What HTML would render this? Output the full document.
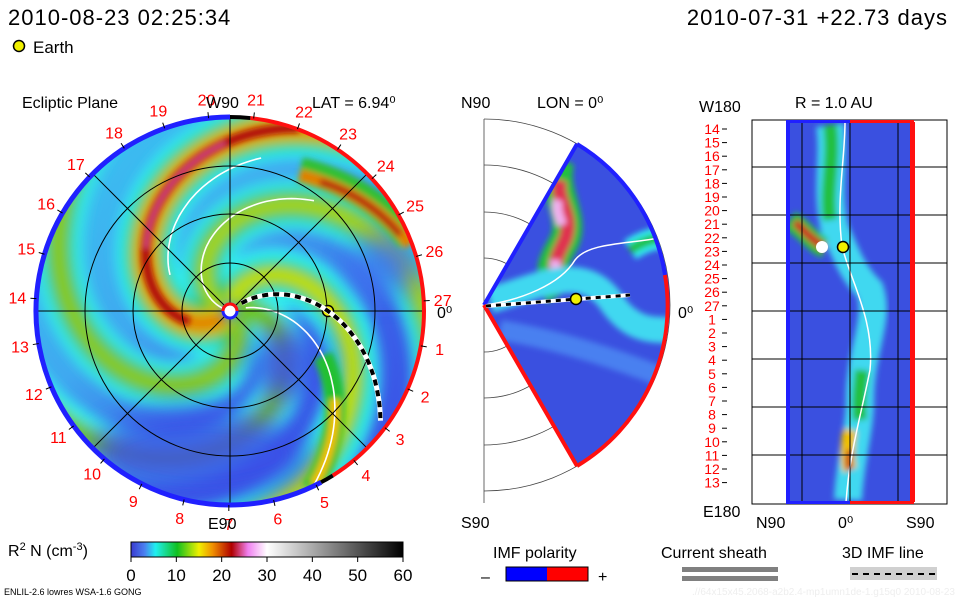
<!DOCTYPE html>
<html><head><meta charset="utf-8"><style>
body{margin:0;background:#fff;width:960px;height:600px;overflow:hidden}
svg{display:block}
text{font-family:"Liberation Sans",sans-serif}
</style></head><body>
<svg id="s" width="960" height="600" viewBox="0 0 960 600">
<defs>
<filter id="bl" x="-20%" y="-20%" width="140%" height="140%"><feGaussianBlur stdDeviation="6"/></filter>
<filter id="bl2" x="-20%" y="-20%" width="140%" height="140%"><feGaussianBlur stdDeviation="3"/></filter>
<filter id="bl3" x="-50%" y="-50%" width="200%" height="200%"><feGaussianBlur stdDeviation="14"/></filter>
<clipPath id="cc"><circle cx="230" cy="311" r="194"/></clipPath>
<clipPath id="wc"><path d="M484,305 L577,144 A186,186 0 0 1 577,466 Z"/></clipPath>
<clipPath id="rc"><rect x="786" y="122" width="128" height="380"/></clipPath>
<linearGradient id="bgg" x1="0" y1="0" x2="0.8" y2="1">
<stop offset="0" stop-color="#38c8f0"/><stop offset="0.45" stop-color="#40a8f0"/><stop offset="0.75" stop-color="#3a60e8"/><stop offset="1" stop-color="#3a50e6"/></linearGradient>
<linearGradient id="cb" x1="0" x2="1" y1="0" y2="0">
<stop offset="0" stop-color="#3a3ad0"/><stop offset="0.05" stop-color="#4a80f0"/><stop offset="0.09" stop-color="#20f0f0"/>
<stop offset="0.17" stop-color="#10c020"/><stop offset="0.25" stop-color="#f0f000"/><stop offset="0.3" stop-color="#f09000"/>
<stop offset="0.37" stop-color="#b00000"/><stop offset="0.43" stop-color="#f080f0"/><stop offset="0.5" stop-color="#ffffff"/>
<stop offset="1" stop-color="#000000"/></linearGradient>
</defs>
<text x="8" y="25" font-size="22" letter-spacing="1">2010-08-23 02:25:34</text>
<text x="948" y="25" font-size="22" letter-spacing="1" text-anchor="end">2010-07-31 +22.73 days</text>
<circle cx="19" cy="46" r="5.5" fill="#f0f000" stroke="#000" stroke-width="1.5"/>
<text x="33" y="53" font-size="17">Earth</text>

<g id="ecl">
<g clip-path="url(#cc)" id="eclip">
<rect x="30" y="110" width="400" height="400" fill="url(#bgg)"/>
<g id="bands" filter="url(#bl)"></g>
<g filter="url(#bl3)" fill="#3a50e6" opacity="0.85">
<ellipse cx="200" cy="455" rx="110" ry="45"/>
<ellipse cx="290" cy="365" rx="40" ry="38"/>
<ellipse cx="385" cy="265" rx="35" ry="30" fill="#4070f0"/>
</g>
<g id="bands2" filter="url(#bl2)"></g>
</g>
<g id="egrid" stroke="#000" stroke-width="1" fill="none"></g>
<g id="erim"></g>
<g id="elabels"></g>
</g>
<text x="22" y="108" font-size="16">Ecliptic Plane</text>
<text x="312" y="108" font-size="16">LAT = 6.94⁰</text>
<text x="206" y="108" font-size="16">W90</text>
<text x="208" y="529" font-size="16">E90</text>
<text x="437" y="318" font-size="16">0⁰</text>

<g>
<g id="mgrid" stroke="#444" stroke-width="0.8" fill="none"></g>
<g clip-path="url(#wc)">
<rect x="480" y="140" width="200" height="340" fill="#3a50e0"/>
<g filter="url(#bl2)">
<path d="M560,160 C550,190 575,215 565,240 C555,260 545,270 560,295" stroke="#20c040" stroke-width="30" fill="none"/>
<path d="M560,180 C555,200 575,215 565,240 C555,260 550,270 565,290" stroke="#e03050" stroke-width="14" fill="none"/>
<path d="M558,200 C555,210 560,218 562,225 M555,260 C555,270 558,275 562,285" stroke="#f0b0f0" stroke-width="10" fill="none"/>
<path d="M630,250 C645,240 660,235 675,240" stroke="#30f0f0" stroke-width="22" fill="none"/>
<path d="M630,250 C645,240 660,235 675,240" stroke="#20c040" stroke-width="10" fill="none"/>
<path d="M490,300 C530,290 580,260 610,300 C630,330 650,330 670,330" stroke="#40d8f0" stroke-width="26" fill="none"/>
<path d="M500,330 C560,340 620,360 670,380" stroke="#4a80f0" stroke-width="20" fill="none"/>
</g>
<path d="M486,305 C520,300 560,285 575,260 C590,240 640,245 670,235" stroke="#fff" stroke-width="1.5" fill="none"/>
</g>
<path d="M577,144 A186,186 0 0 1 665,275" stroke="#2020ff" stroke-width="4" fill="none"/>
<path d="M665,275 A186,186 0 0 1 577,466" stroke="#ff1010" stroke-width="4" fill="none"/>
<line x1="484" y1="305" x2="577" y2="144" stroke="#2020ff" stroke-width="4"/>
<line x1="484" y1="305" x2="577" y2="466" stroke="#ff1010" stroke-width="4"/>
<line x1="486" y1="306" x2="630" y2="295" stroke="#fff" stroke-width="4"/>
<line x1="486" y1="306" x2="630" y2="295" stroke="#000" stroke-width="3" stroke-dasharray="5,5"/>
<circle cx="576" cy="299" r="5.5" fill="#f0f000" stroke="#000" stroke-width="1.5"/>
</g>
<text x="461" y="108" font-size="16">N90</text>
<text x="537" y="108" font-size="16">LON = 0⁰</text>
<text x="461" y="528" font-size="16">S90</text>
<text x="678" y="318" font-size="16">0⁰</text>

<g>
<g clip-path="url(#rc)">
<rect x="786" y="122" width="128" height="380" fill="#3a50e0"/>
<g filter="url(#bl2)">
<path d="M830,125 C835,160 825,190 835,230 C845,250 850,270 870,290 C880,320 860,350 860,400 C860,430 850,460 848,500" stroke="#40d8f0" stroke-width="28" fill="none"/>
<path d="M830,125 C835,160 825,190 830,220" stroke="#20c040" stroke-width="14" fill="none"/>
<path d="M790,220 C805,230 815,245 825,248" stroke="#20c040" stroke-width="20" fill="none"/>
<path d="M795,222 C805,232 815,242 825,248" stroke="#d02020" stroke-width="8" fill="none"/>
<path d="M862,370 C860,390 858,400 860,420" stroke="#20c040" stroke-width="14" fill="none"/>
<path d="M850,430 C846,450 848,465 850,470" stroke="#f0c000" stroke-width="14" fill="none"/>
<path d="M850,450 C848,460 848,465 850,470" stroke="#c02020" stroke-width="6" fill="none"/>
</g>
<circle cx="822" cy="247" r="6" fill="#fff"/>
<path d="M845,122 C845,160 836,200 842,246 C850,280 875,320 870,370 C860,420 850,450 846,502" stroke="#fff" stroke-width="1.5" fill="none"/>
</g>
<g stroke="#000" stroke-width="1" fill="none" id="rgrid"></g>
<rect x="786" y="122" width="4" height="380" fill="#2020ff"/>
<rect x="910" y="122" width="5" height="380" fill="#ff1010"/>
<rect x="786" y="120" width="64" height="3" fill="#2020ff"/><rect x="850" y="120" width="64" height="3" fill="#ff1010"/>
<rect x="786" y="501" width="64" height="3" fill="#2020ff"/><rect x="850" y="501" width="64" height="3" fill="#ff1010"/>
<circle cx="843" cy="247" r="5.5" fill="#f0f000" stroke="#000" stroke-width="1.5"/>
<g id="rlabels"></g>
</g>
<text x="699" y="112" font-size="16">W180</text>
<text x="795" y="108" font-size="16">R = 1.0 AU</text>
<text x="703" y="517" font-size="16">E180</text>
<text x="756" y="528" font-size="16">N90</text>
<text x="838" y="528" font-size="16">0⁰</text>
<text x="906" y="528" font-size="16">S90</text>

<text x="8" y="556" font-size="16">R<tspan dy="-6" font-size="11">2</tspan><tspan dy="6"> N (cm</tspan><tspan dy="-6" font-size="11">-3</tspan><tspan dy="6">)</tspan></text>
<rect x="131" y="542" width="272" height="15" fill="url(#cb)" stroke="#000" stroke-width="1"/>
<g id="cbticks"></g>
<text x="493" y="558" font-size="16">IMF polarity</text>
<text x="481" y="582" font-size="16">–</text>
<rect x="506" y="567" width="41" height="14" fill="#0000ff"/>
<rect x="547" y="567" width="41" height="14" fill="#ff0000"/>
<rect x="506" y="567" width="82" height="14" fill="none" stroke="#000"/>
<text x="598" y="582" font-size="16">+</text>
<text x="661" y="558" font-size="16">Current sheath</text>
<rect x="682" y="567" width="96" height="5" fill="#808080"/>
<rect x="682" y="576" width="96" height="5" fill="#808080"/>
<text x="842" y="558" font-size="16">3D IMF line</text>
<rect x="850" y="567" width="87" height="13" fill="#d0d0d0"/>
<line x1="852" y1="574" x2="935" y2="574" stroke="#000" stroke-width="2" stroke-dasharray="6,5"/>
<text x="4" y="595" font-size="9">ENLIL-2.6 lowres WSA-1.6 GONG</text>
<text x="955" y="595" font-size="10" fill="#eee" text-anchor="end">.//64x15x45.2068-a2b2.4-mp1umn1de-1.g15q0   2010-08-23</text>
</svg>
<script>
const NS="http://www.w3.org/2000/svg";
const cbTicks=[0,10,20,30,40,50,60];
const dayLabels=[1,2,3,4,5,6,7,8,9,10,11,12,13,14,15,16,17,18,19,20,21,22,23,24,25,26,27];
const radialLabels=[14,15,16,17,18,19,20,21,22,23,24,25,26,27,1,2,3,4,5,6,7,8,9,10,11,12,13];
const gridRadii=[48,97,145,194];
function mk(tag,at,parent){const e=document.createElementNS(NS,tag);for(const k in at)e.setAttribute(k,at[k]);parent.appendChild(e);return e;}
const cx=230,cy=311,R=194;
const bands=[[4.0,"#30f0f0",60],[1.5,"#30f0f0",54],[2.8,"#30e8e8",50],[5.4,"#30e8e8",50],[6.6,"#30f0f0",46],
 [4.0,"#20c030",40],[1.5,"#20c030",28],[2.8,"#40c030",28],[5.4,"#50c030",26],[6.6,"#70c820",24],
 [4.0,"#f0d000",24],[1.5,"#c8e010",14],[2.8,"#b0d820",12],[5.4,"#a0d020",8],
 [4.0,"#e07000",14]];
function spiral(ps,from,to,k){k=k||70;let d="";for(let p=from;p>=to;p-=0.03){const r=k*(ps-p);if(r<8)continue;const x=cx+r*Math.cos(p),y=cy-r*Math.sin(p);d+=(d?"L":"M")+x.toFixed(1)+","+y.toFixed(1);}return d;}
const bg=document.getElementById("bands");
bands.forEach(b=>{const e=mk("path",{d:spiral(b[0],b[0],b[0]-4.2),stroke:b[1],"stroke-width":b[2],fill:"none"},bg);});
const bg2=document.getElementById("bands2");
mk("path",{d:spiral(4.0,3.4,1.2),stroke:"#b01010","stroke-width":9,fill:"none"},bg2);
mk("path",{d:spiral(4.0,2.5,1.6),stroke:"#d04080","stroke-width":5,fill:"none"},bg2);
mk("path",{d:"M300,170 C340,180 380,200 410,240",stroke:"#30c030","stroke-width":26,fill:"none"},bg2);
mk("path",{d:"M300,175 C340,185 380,205 410,245",stroke:"#e08000","stroke-width":12,fill:"none"},bg2);
mk("path",{d:"M320,182 C350,190 380,210 400,235",stroke:"#b01010","stroke-width":6,fill:"none"},bg2);
mk("path",{d:spiral(0.32,-0.45,-1.15,134),stroke:"#20c030","stroke-width":20,fill:"none"},bg2);
mk("path",{d:spiral(0.32,-0.7,-1.15,134),stroke:"#f0c000","stroke-width":10,fill:"none"},bg2);
const ec=document.getElementById("eclip");
mk("path",{d:spiral(3.6,2.6,1.35),stroke:"#fff","stroke-width":1.6,fill:"none"},ec);
mk("path",{d:spiral(2.9,2.9,0.9),stroke:"#fff","stroke-width":1.6,fill:"none"},ec);
mk("path",{d:spiral(0.32,0.2,-1.15,134),stroke:"#fff","stroke-width":1.6,fill:"none"},ec);
const eg=document.getElementById("egrid");
gridRadii.slice(0,3).forEach(r=>mk("circle",{cx,cy,r},eg));
for(let a=0;a<180;a+=45){const t=a*Math.PI/180;mk("line",{x1:cx-R*Math.cos(t),y1:cy-R*Math.sin(t),x2:cx+R*Math.cos(t),y2:cy+R*Math.sin(t)},eg);}
const eclG=document.getElementById("ecl");
mk("path",{d:spiral(0.7,0.6,-0.66,140),stroke:"#fff","stroke-width":5,fill:"none"},eclG);
mk("path",{d:spiral(0.7,0.6,-0.66,140),stroke:"#000","stroke-width":4,fill:"none","stroke-dasharray":"6,5"},eclG);
const er=document.getElementById("erim");
function arc(a1,a2,col,w){const p1=[cx+R*Math.cos(a1*Math.PI/180),cy-R*Math.sin(a1*Math.PI/180)],p2=[cx+R*Math.cos(a2*Math.PI/180),cy-R*Math.sin(a2*Math.PI/180)];const large=Math.abs(a2-a1)>180?1:0;mk("path",{d:`M${p1[0]},${p1[1]} A${R},${R} 0 ${large} ${a2<a1?1:0} ${p2[0]},${p2[1]}`,stroke:col,"stroke-width":w,fill:"none"},er);}
arc(84,-58,"#ff1010",4);arc(90,298,"#2020ff",5);arc(84,90,"#000",4);arc(-58,-62,"#000",4);
mk("circle",{cx,cy,r:7,fill:"#fff",stroke:"#2020ff","stroke-width":3},er);
mk("path",{d:`M${cx-7},${cy} A7,7 0 0 1 ${cx+7},${cy}`,stroke:"#ff1010","stroke-width":3,fill:"none"},er);
const earth=mk("circle",{cx:328,cy:311,r:5.5,fill:"#f0f000",stroke:"#000","stroke-width":1.5},er);


const el=document.getElementById("elabels");
dayLabels.forEach(n=>{const a=(3+13.333*(27-n))*Math.PI/180;const x=cx+213*Math.cos(a),y=cy-213*Math.sin(a)+6;
 mk("line",{x1:cx+R*Math.cos(a),y1:cy-R*Math.sin(a),x2:cx+(R+6)*Math.cos(a),y2:cy-(R+6)*Math.sin(a),stroke:"#000"},el);
 const t=mk("text",{x,y,"font-size":16,fill:"#ff0000","text-anchor":"middle"},el);t.textContent=n;
 
 });
const mg=document.getElementById("mgrid");
[47,93,140,186].forEach(r=>mk("path",{d:`M484,${305-r} A${r},${r} 0 0 1 484,${305+r}`},mg));
mk("line",{x1:484,y1:119,x2:484,y2:503},mg);
[-60,-30,0,30,60].forEach(a=>{const t=a*Math.PI/180;mk("line",{x1:484,y1:305,x2:484+186*Math.cos(t),y2:305-186*Math.sin(t)},mg);});
const rg=document.getElementById("rgrid");
mk("rect",{x:752,y:120,width:195,height:384},rg);
[167,215,263,311,359,407,455].forEach(y=>mk("line",{x1:752,y1:y,x2:947,y2:y},rg));
[802,850,898].forEach(x=>mk("line",{x1:x,y1:120,x2:x,y2:504},rg));
const rl=document.getElementById("rlabels");
radialLabels.forEach((n,i)=>{const y=129+i*13.6;const t=mk("text",{x:712,y:y+5,"font-size":14,fill:"#ff0000","text-anchor":"middle"},rl);t.textContent=n;
 
 
 mk("line",{x1:722,y1:y,x2:727,y2:y,stroke:"#000"},rl);});
const cbt=document.getElementById("cbticks");
cbTicks.forEach(v=>{const x=131+v/60*272;mk("line",{x1:x,y1:557,x2:x,y2:562,stroke:"#000"},cbt);
 const t=mk("text",{x,y:581,"font-size":17,"text-anchor":"middle"},cbt);t.textContent=v;
 
 });
</script>
</body></html>
